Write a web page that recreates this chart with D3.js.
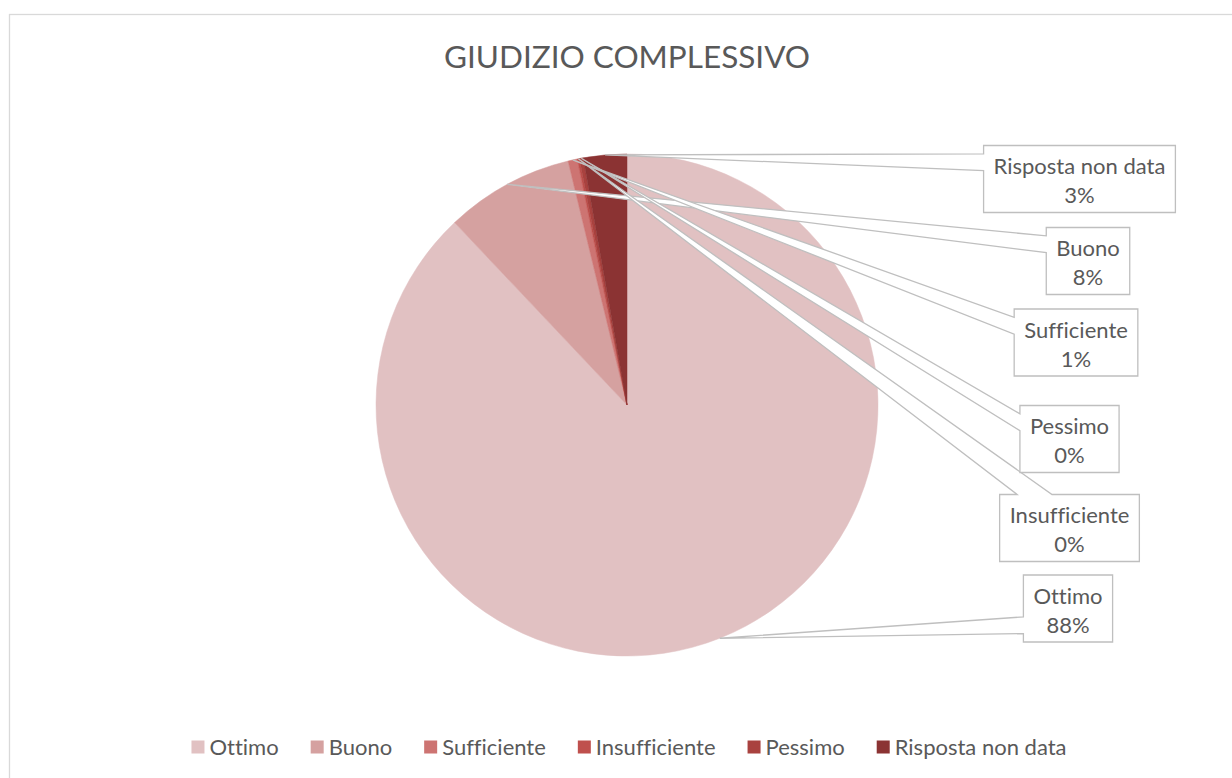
<!DOCTYPE html>
<html>
<head>
<meta charset="utf-8">
<script src="https://cdn.jsdelivr.net/npm/d3@7"></script>
<style>
  html, body { margin: 0; padding: 0; background: #ffffff; }
  svg { display: block; }
  text { font-variant-ligatures: none; font-feature-settings: "liga" 0; }
</style>
</head>
<body>
<svg id="chart" width="1232" height="778"></svg>
<script>
// ---- data ----
const title = "GIUDIZIO COMPLESSIVO";
const categories = ["Ottimo", "Buono", "Sufficiente", "Insufficiente", "Pessimo", "Risposta non data"];
const values = [87.95, 8.28, 0.60, 0.13, 0.25, 2.79];
const colors = ["#e1c1c2", "#d5a1a0", "#cd7472", "#bf504d", "#a9423f", "#8b3333"];
// label box centres (layout)
const labelCenters = [[1068, 608.5], [1088, 261], [1076, 342.5], [1069.5, 528], [1069.5, 439], [1079.5, 179]];

// ---- layout ----
const W = 1232, H = 778;
const cx = 627, cy = 405, R = 251;
const font = "Lato, 'Open Sans', sans-serif";
const textColor = "#595959";
const lineColor = "#bfbfbf";

const svg = d3.select("#chart");

// chart frame
svg.append("rect")
  .attr("x", 9.5).attr("y", 14.5)
  .attr("width", W + 20).attr("height", H + 20)
  .attr("fill", "#fff").attr("stroke", "#d9d9d9").attr("stroke-width", 1.3);

// title
svg.append("text")
  .attr("x", cx).attr("y", 67.5)
  .attr("text-anchor", "middle")
  .attr("font-family", font).attr("font-size", 31.5)
  .attr("fill", textColor)
  .text(title);

const data = categories.map((c, i) => ({ name: c, value: values[i], color: colors[i], idx: i }));
const total = d3.sum(values);

const pie = d3.pie().sort(null).value(d => d.value).startAngle(0).endAngle(2 * Math.PI);
const arcs = pie(data);
const arc = d3.arc().innerRadius(0).outerRadius(R);
const edge = d3.arc().innerRadius(R).outerRadius(R);

const g = svg.append("g").attr("transform", `translate(${cx},${cy})`);
g.selectAll("path.slice").data(arcs).enter().append("path")
  .attr("class", "slice")
  .attr("d", arc)
  .attr("fill", d => d.data.color)
  .attr("stroke", d => d.data.color)
  .attr("stroke-width", 0.5);

// callouts
const labelSize = 22;
const cg = svg.append("g");
arcs.forEach((d, i) => {
  const [ax0, ay0] = edge.centroid(d);
  const ax = ax0 + cx, ay = ay0 + cy;
  const [lx, ly] = labelCenters[i];
  const pct = Math.round(d.data.value / total * 100) + "%";

  const grp = cg.append("g");
  const poly = grp.append("path");
  const t1 = grp.append("text")
    .attr("x", lx).attr("y", ly - 5)
    .attr("text-anchor", "middle")
    .attr("font-family", font).attr("font-size", labelSize)
    .attr("fill", textColor)
    .text(d.data.name);
  const t2 = grp.append("text")
    .attr("x", lx).attr("y", ly + 24)
    .attr("text-anchor", "middle")
    .attr("font-family", font).attr("font-size", labelSize)
    .attr("fill", textColor)
    .text(pct);

  const tw = Math.max(t1.node().getComputedTextLength(), t2.node().getComputedTextLength());
  const w = tw + 20, h = 67;
  const x0 = lx - w / 2, x1 = lx + w / 2, y0 = ly - h / 2, y1 = ly + h / 2;
  const dx = ax - lx, dy = ay - ly;
  let pts;
  if (Math.abs(dx) / (w / 2) >= Math.abs(dy) / (h / 2)) {
    // left side
    const yc = Math.max(y0 + h / 4, Math.min(y1 - h / 4, ay));
    const hh = h / 8;
    pts = [[x0, y0], [x1, y0], [x1, y1], [x0, y1], [x0, yc + hh], [ax, ay], [x0, yc - hh]];
  } else {
    // top side
    const xc = Math.max(x0 + w / 4, Math.min(x1 - w / 4, ax));
    const hw = w / 8;
    pts = [[x0, y0], [xc - hw, y0], [ax, ay], [xc + hw, y0], [x1, y0], [x1, y1], [x0, y1]];
  }
  poly.attr("d", d3.line()(pts) + "Z")
    .attr("fill", "#ffffff")
    .attr("stroke", lineColor)
    .attr("stroke-width", 1.3)
    .attr("stroke-linejoin", "miter");
});

// legend
const lg = svg.append("g");
const legendY = 747;
let xcur = 0;
data.forEach(d => {
  const it = lg.append("g");
  it.append("rect").attr("x", xcur).attr("y", legendY - 6.5).attr("width", 13).attr("height", 13).attr("fill", d.color);
  const t = it.append("text")
    .attr("x", xcur + 18).attr("y", legendY)
    .attr("dy", "0.35em")
    .attr("font-family", font).attr("font-size", labelSize)
    .attr("fill", textColor)
    .text(d.name);
  xcur += 18 + t.node().getComputedTextLength() + 32;
});
const legendW = xcur - 32;
lg.attr("transform", `translate(${629 - legendW / 2},0)`);
</script>
</body>
</html>
